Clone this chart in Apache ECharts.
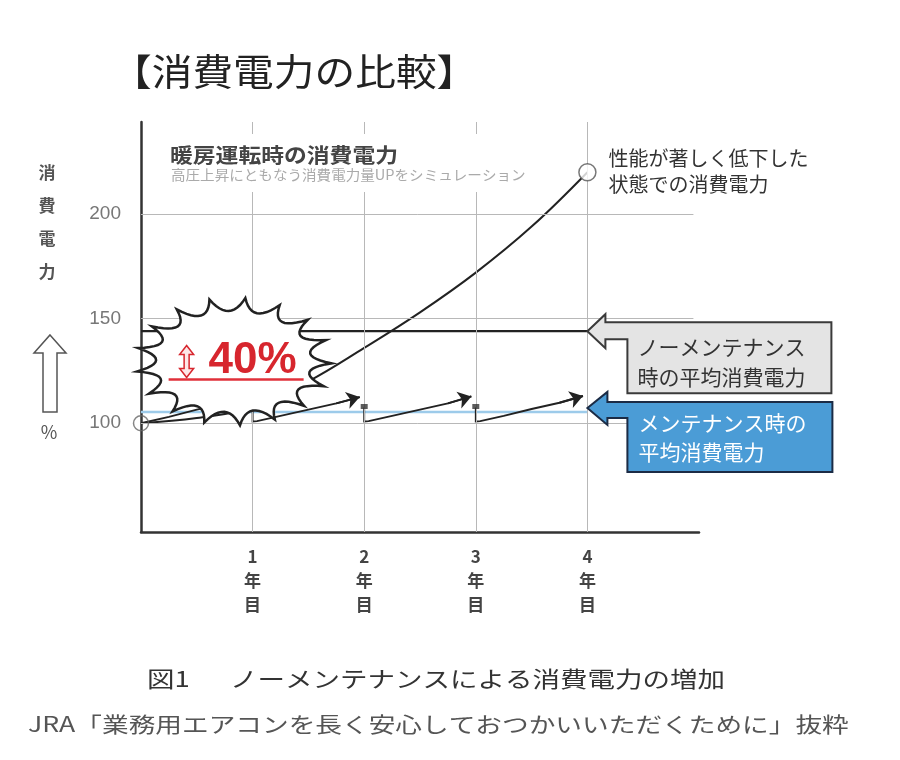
<!DOCTYPE html>
<html><head><meta charset="utf-8">
<script src="https://cdn.jsdelivr.net/npm/echarts@6/dist/echarts.min.js"></script>
<style>html,body{margin:0;padding:0;background:#fff}#c{width:900px;height:760px}</style>
</head><body><div id="c"></div>
<script>
// ---- data ----
const xTickValues = [1, 2, 3, 4];
const xTickLabels = ['1\n年\n目', '2\n年\n目', '3\n年\n目', '4\n年\n目'];
const yTickValues = [100, 150, 200];
const noMaintX = [0, 0.5, 1, 1.5, 2, 2.5, 3, 3.5, 4];
const noMaintY = [100, 102.5, 107.5, 120, 136, 153, 172, 194, 220];
const noMaintAvg = 144;
const maintAvg = 105.4;
const saw0X = [0, 0.25, 0.5, 0.75, 0.97];
const saw0Y = [100, 103, 106.5, 109.5, 112];
const saw1X = [1, 1, 1.04, 1.25, 1.5, 1.75, 1.96];
const saw1Y = [107.5, 100.8, 101, 103.5, 106.5, 109.5, 112.5];
const saw2X = [2, 2, 2.04, 2.25, 2.5, 2.75, 2.96];
const saw2Y = [107.5, 100.8, 101, 103.5, 106.5, 109.5, 112.8];
const saw3X = [3, 3, 3.04, 3.25, 3.5, 3.75, 3.96];
const saw3Y = [107.5, 100.8, 101, 103.5, 106.8, 109.8, 113];
const markerX = [1, 2, 3];
const markerY = [108, 108, 108];
const startPoint = [0, 100];
const endPoint = [4, 220];

const JP = '"Noto Sans CJK JP", "Noto Sans", sans-serif';
const zip = (xs, ys) => xs.map((x, i) => [x, ys[i]]);
const saws = [zip(saw0X, saw0Y), zip(saw1X, saw1Y), zip(saw2X, saw2Y), zip(saw3X, saw3Y)];

const chart = echarts.init(document.getElementById('c'), null, {renderer: 'canvas'});

const gridLines = [];
yTickValues.forEach(v => {
  gridLines.push([{name: String(v), coord: [0, v], label: {show: true}}, {coord: [4.95, v]}]);
});
xTickValues.forEach(v => {
  gridLines.push([{coord: [v, 48], label: {show: false}}, {coord: [v, 244]}]);
});

chart.setOption({
  backgroundColor: '#fff',
  animation: false,
  grid: {left: 141, top: 122, width: 558, height: 410},
  xAxis: {
    type: 'value', min: 0, max: 5, interval: 1,
    axisLine: {onZero: false, lineStyle: {color: '#333', width: 2.5}},
    axisTick: {show: false},
    splitLine: {show: false},
    axisLabel: {
      formatter: v => { const i = xTickValues.indexOf(v); return i >= 0 ? xTickLabels[i] : ''; },
      color: '#444', fontSize: 17, fontWeight: 'bold', lineHeight: 24, margin: 13, fontFamily: JP
    }
  },
  yAxis: {
    type: 'value', min: 48, max: 244,
    axisLine: {show: true, onZero: false, lineStyle: {color: '#333', width: 2.5}},
    axisTick: {show: false},
    axisLabel: {show: false},
    splitLine: {show: false}
  },
  series: [
    {
      type: 'line', name: 'grid', data: [[0, 100]], showSymbol: false, symbol: 'none',
      lineStyle: {opacity: 0}, z: 1, silent: true,
      markLine: {
        silent: true, symbol: ['none', 'none'],
        lineStyle: {color: '#b8b8b8', width: 1, type: 'solid'},
        label: {show: false, position: 'start', formatter: '{b}', color: '#777', fontSize: 19, distance: 20, fontFamily: '"Liberation Sans", sans-serif'},
        emphasis: {disabled: true},
        data: gridLines
      }
    },
    {
      type: 'line', name: 'maintAvg', data: [[0, maintAvg], [4, maintAvg]], symbol: 'none',
      lineStyle: {color: '#9dcbea', width: 2.5}, z: 2
    },
    {
      type: 'line', name: 'noMaintAvg', data: [[0, noMaintAvg], [4, noMaintAvg]], symbol: 'none',
      lineStyle: {color: '#222', width: 2.2}, z: 3
    },
    {
      type: 'line', name: 'noMaint', data: zip(noMaintX, noMaintY), smooth: 0.4, symbol: 'none',
      lineStyle: {color: '#222', width: 2}, z: 3
    },
    {
      type: 'lines', coordinateSystem: 'cartesian2d', polyline: true,
      lineStyle: {color: '#222', width: 1.9, opacity: 1},
      data: saws.map(s => ({coords: s})),
      z: 4
    },
    {
      type: 'lines', coordinateSystem: 'cartesian2d',
      symbol: ['none', 'arrow'], symbolSize: 13,
      lineStyle: {color: '#222', width: 1.9, opacity: 1, curveness: 0},
      data: saws.map(s => ({coords: [s[s.length - 2], s[s.length - 1]]})),
      z: 4
    },
    {
      type: 'scatter', data: zip(markerX, markerY), symbol: 'rect', symbolSize: [7, 5],
      itemStyle: {color: '#333'}, z: 5
    },
    {
      type: 'scatter', data: [endPoint], symbol: 'circle', symbolSize: 17,
      itemStyle: {color: '#fff', borderColor: '#555', borderWidth: 1.5}, z: 6
    },
    {
      type: 'scatter', data: [startPoint], symbol: 'circle', symbolSize: 15,
      itemStyle: {color: 'rgba(0,0,0,0)', borderColor: '#666', borderWidth: 1.5}, z: 6
    }
  ]
});

function P(pt) { return chart.convertToPixel({gridIndex: 0}, pt); }
function txt(x, y, text, font, fill, extra) {
  return Object.assign({
    type: 'text', x: x, y: y, z: 30,
    style: {text: text, font: font, fill: fill, align: 'left', verticalAlign: 'middle', textAlign: 'left', textVerticalAlign: 'middle'}
  }, extra || {});
}
function poly(points, fill, stroke, lw, z) {
  return {type: 'polygon', z: z, shape: {points: points}, style: {fill: fill, stroke: stroke, lineWidth: lw}};
}

// burst (starburst balloon)
const bc = P([0.83, 129.5]);
const cx = bc[0], cy = bc[1];
const N = 17, rx = 98, ry = 64, k = 0.6;
const burstPts = [];
for (let i = 0; i < N; i++) {
  const a0 = -Math.PI / 2 + i * 2 * Math.PI / N + 0.12;
  const a1 = a0 + 2 * Math.PI / N;
  const am = (a0 + a1) / 2;
  const t0 = [cx + rx * Math.cos(a0), cy + ry * Math.sin(a0)];
  const t1 = [cx + rx * Math.cos(a1), cy + ry * Math.sin(a1)];
  const cp = [cx + rx * k * Math.cos(am), cy + ry * k * Math.sin(am)];
  for (let s = 0; s < 12; s++) {
    const t = s / 12;
    const u = 1 - t;
    burstPts.push([u * u * t0[0] + 2 * u * t * cp[0] + t * t * t1[0], u * u * t0[1] + 2 * u * t * cp[1] + t * t * t1[1]]);
  }
}

const ax = cx - 47, ay = cy;
const dbl = [[0,-16],[7,-7],[2.5,-7],[2.5,7],[7,7],[0,16],[-7,7],[-2.5,7],[-2.5,-7],[-7,-7]].map(p => [ax + p[0], ay + p[1]]);

const g = P([4, noMaintAvg]);
const grayPts = [[0,0],[18,-17],[18,-9],[244,-9],[244,62],[40,62],[40,8],[18,8],[18,17]].map(p => [g[0] + p[0], g[1] + p[1]]);
const b0 = P([4, maintAvg]);
const b = [b0[0], b0[1] - 4];
const bluePts = [[0,0],[20,-16],[20,-6],[245,-6],[245,64],[40,64],[40,10],[20,10],[20,17]].map(p => [b[0] + p[0], b[1] + p[1]]);
const e = P(endPoint);

const upArrow = [[50,335],[66,353],[57,353],[57,412],[43,412],[43,353],[34,353]];

chart.setOption({
  graphic: {elements: [
    // title
    txt(111, 72, '【消費電力の比較】', '37px ' + JP, '#222', {scaleX: 1.1}),
    // top annotation with white backing
    {type: 'rect', z: 8, shape: {x: 143, y: 134, width: 402, height: 58}, style: {fill: '#fff'}},
    txt(170, 155, '暖房運転時の消費電力', 'bold 20px ' + JP, '#444', {scaleX: 1.14}),
    txt(171, 175, '高圧上昇にともなう消費電力量UPをシミュレーション', '14px ' + JP, '#aaa', {scaleX: 1.04}),
    // end point text
    txt(e[0] + 21, e[1] - 14, '性能が著しく低下した', '20px ' + JP, '#333'),
    txt(e[0] + 21, e[1] + 12, '状態での消費電力', '20px ' + JP, '#333'),
    // y axis title
    {type: 'text', x: 47, y: 156, z: 30, style: {text: '消\n費\n電\n力', font: 'bold 17px ' + JP, fill: '#555', lineHeight: 33, align: 'center', textAlign: 'center', verticalAlign: 'top', textVerticalAlign: 'top'}},
    poly(upArrow, '#fff', '#555', 1.5, 30),
    {type: 'text', x: 49, y: 432, z: 30, style: {text: '%', font: '18px ' + JP, fill: '#555', align: 'center', textAlign: 'center', verticalAlign: 'middle', textVerticalAlign: 'middle'}},
    // burst
    poly(burstPts, '#fff', '#222', 2.5, 20),
    poly(dbl, '#fde6e6', '#d7262e', 1.5, 21),
    {type: 'text', x: cx + 19, y: cy - 1, z: 21, style: {text: '40%', font: 'bold 44px "Liberation Sans", Arial, sans-serif', fill: '#d7262e', align: 'center', textAlign: 'center', verticalAlign: 'middle', textVerticalAlign: 'middle'}},
    {type: 'line', z: 21, shape: {x1: cx - 65, y1: cy + 18, x2: cx + 70, y2: cy + 18}, style: {stroke: '#e0303a', lineWidth: 2.5}},
    // gray callout
    poly(grayPts, '#e4e4e4', '#3a3a3a', 2, 10),
    txt(g[0] + 50, g[1] + 16, 'ノーメンテナンス', '21px ' + JP, '#333', {z: 11}),
    txt(g[0] + 50, g[1] + 46, '時の平均消費電力', '21px ' + JP, '#333', {z: 11}),
    // blue callout
    poly(bluePts, '#4b9cd6', '#1b2b45', 2, 10),
    txt(b[0] + 51, b[1] + 15, 'メンテナンス時の', '21px ' + JP, '#fff', {z: 11}),
    txt(b[0] + 51, b[1] + 44, '平均消費電力', '21px ' + JP, '#fff', {z: 11}),
    // captions
    txt(147, 679, '図1', '22px ' + JP, '#333', {scaleX: 1.25}),
    txt(230, 679, 'ノーメンテナンスによる消費電力の増加', '22px ' + JP, '#333', {scaleX: 1.25}),
    txt(28, 724, 'JRA「業務用エアコンを長く安心しておつかいいただくために」抜粋', '21px ' + JP, '#555', {scaleX: 1.27})
  ]}
});
</script>
</body></html>
